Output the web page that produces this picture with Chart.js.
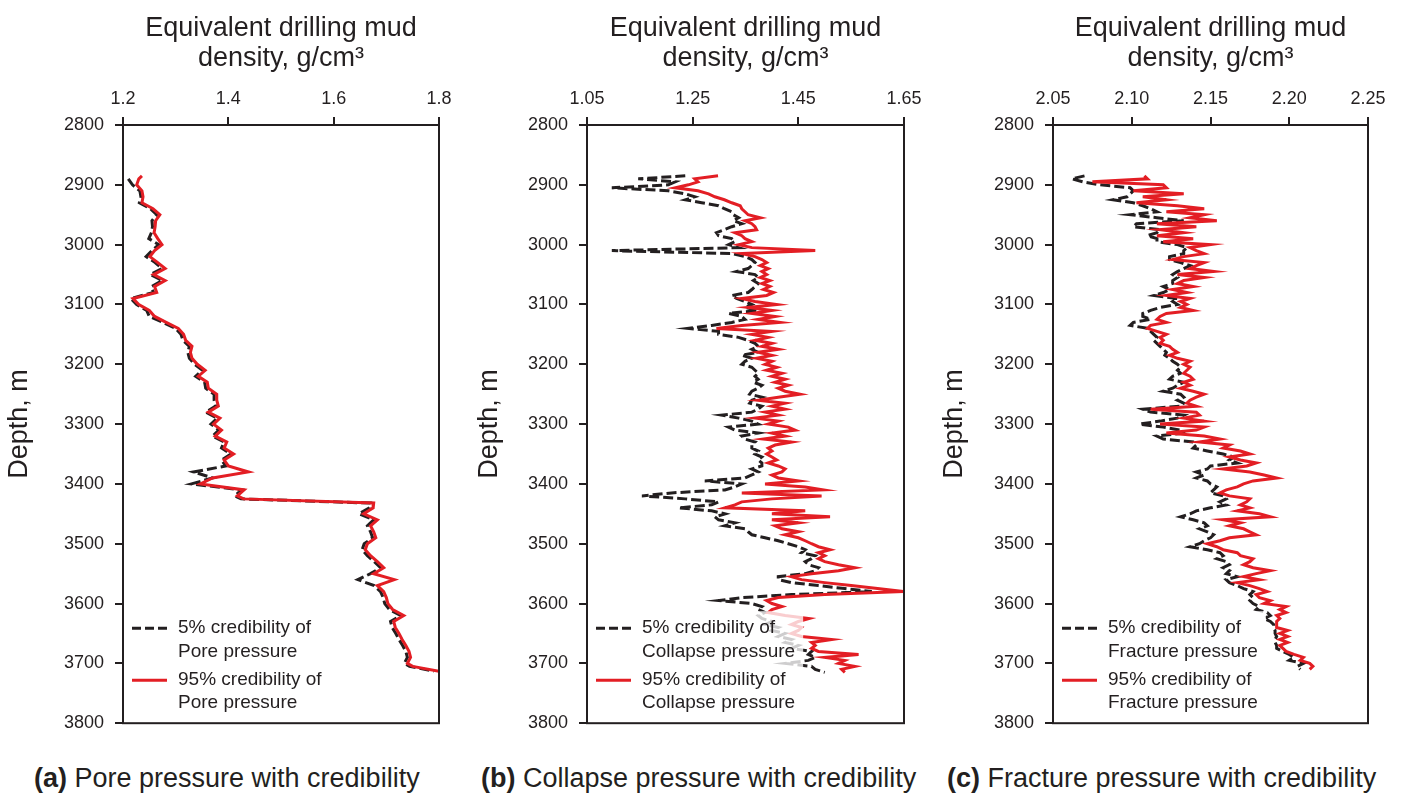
<!DOCTYPE html>
<html>
<head>
<meta charset="utf-8">
<script src="https://cdn.jsdelivr.net/npm/chart.js@4.4.0/dist/chart.umd.min.js"></script>
<style>
  body { margin: 0; background: #fff; width: 1402px; height: 795px; overflow: hidden; position: relative;
         font-family: 'Liberation Sans', Arial, sans-serif; color: #231f20; }
  .panel { position: absolute; top: 0; height: 745px; }
  .caption { position: absolute; top: 763px; font-size: 27px; line-height: 30px; white-space: nowrap; }
</style>
</head>
<body>
<div class="panel" style="left:0;width:470px"><canvas id="chartA"></canvas></div>
<div class="panel" style="left:470px;width:465px"><canvas id="chartB"></canvas></div>
<div class="panel" style="left:935px;width:467px"><canvas id="chartC"></canvas></div>
<div class="caption" style="left:34px"><b>(a)</b> Pore pressure with credibility</div>
<div class="caption" style="left:481px"><b>(b)</b> Collapse pressure with credibility</div>
<div class="caption" style="left:947px"><b>(c)</b> Fracture pressure with credibility</div>
<script>
const RED = '#e31e24';
const INK = '#231f20';

// depth axis (shared by all panels)
const depthTicks = [2800, 2900, 3000, 3100, 3200, 3300, 3400, 3500, 3600, 3700, 3800];
const depthLabels = ['2800', '2900', '3000', '3100', '3200', '3300', '3400', '3500', '3600', '3700', '3800'];

// (a) pore pressure
const poreTicks = [1.2, 1.4, 1.6, 1.8];
const poreLabels = ['1.2', '1.4', '1.6', '1.8'];
const poreDepth = [
  2885, 2890,
  2900, 2910, 2920, 2930, 2940, 2950, 2960, 2970, 2980, 2990,
  3000, 3010, 3020, 3030, 3040, 3050, 3060, 3070, 3080, 3090,
  3100, 3110, 3120, 3130, 3140, 3150, 3160, 3170, 3180, 3190,
  3200, 3210, 3220, 3230, 3240, 3250, 3260, 3270, 3280, 3290,
  3300, 3310, 3320, 3330, 3340, 3350, 3360, 3370, 3380, 3390,
  3400, 3410, 3420, 3425, 3432, 3440, 3450, 3460, 3470, 3480, 3490,
  3500, 3510, 3520, 3530, 3540, 3550, 3560, 3570, 3580, 3590,
  3600, 3610, 3620, 3630, 3640, 3650, 3660, 3670, 3680, 3690,
  3700, 3705, 3713
];
const pore95 = [
  1.236, 1.23,
  1.226, 1.236, 1.238, 1.236, 1.257, 1.270, 1.262, 1.261, 1.259, 1.266,
  1.274, 1.26, 1.251, 1.266, 1.28, 1.258, 1.28, 1.26, 1.264, 1.219,
  1.23, 1.25, 1.26, 1.282, 1.305, 1.315, 1.319, 1.331, 1.328, 1.331,
  1.341, 1.356, 1.343, 1.36, 1.362, 1.378, 1.378, 1.381, 1.362, 1.384,
  1.372, 1.387, 1.375, 1.397, 1.392, 1.41, 1.392, 1.40, 1.438, 1.37,
  1.347, 1.43, 1.417, 1.429, 1.676, 1.675, 1.657, 1.683, 1.670, 1.676, 1.68,
  1.664, 1.66, 1.67, 1.683, 1.695, 1.676, 1.715, 1.683, 1.695, 1.70,
  1.703, 1.712, 1.733, 1.714, 1.717, 1.724, 1.73, 1.737, 1.743, 1.746,
  1.74, 1.75, 1.80
];
const pore5 = [
  null, 1.21,
  1.218, 1.232, 1.234, 1.231, 1.252, 1.264, 1.255, 1.256, 1.254, 1.249,
  1.268, 1.255, 1.244, 1.261, 1.274, 1.252, 1.275, 1.254, 1.258, 1.215,
  1.226, 1.245, 1.25, 1.276, 1.30, 1.31, 1.314, 1.326, 1.323, 1.326,
  1.336, 1.351, 1.338, 1.355, 1.357, 1.373, 1.373, 1.376, 1.357, 1.379,
  1.367, 1.382, 1.37, 1.392, 1.387, 1.405, 1.387, 1.395, 1.334, 1.37,
  1.33, 1.425, 1.412, 1.424, 1.67, 1.668, 1.648, 1.676, 1.664, 1.67, 1.674,
  1.658, 1.654, 1.664, 1.677, 1.689, 1.67, 1.646, 1.677, 1.689, 1.694,
  1.697, 1.706, 1.727, 1.708, 1.711, 1.718, 1.724, 1.731, 1.737, 1.74,
  1.734, 1.744, 1.79
];

// (b) collapse pressure
const collapseTicks = [1.05, 1.25, 1.45, 1.65];
const collapseLabels = ['1.05', '1.25', '1.45', '1.65'];
const collapseDepth = [
  2885, 2890, 2895, 2900, 2905, 2910, 2915, 2920, 2925, 2930,
  2935, 2940, 2945, 2950, 2955, 2960, 2965, 2970, 2975, 2980,
  2985, 2990, 2995, 3000, 3005, 3010, 3015, 3020, 3025, 3030,
  3035, 3040, 3045, 3050, 3055, 3060, 3065, 3070, 3075, 3080,
  3085, 3090, 3095, 3100, 3105, 3110, 3115, 3120, 3125, 3130,
  3135, 3140, 3145, 3150, 3155, 3160, 3165, 3170, 3175, 3180,
  3185, 3190, 3195, 3200, 3205, 3210, 3215, 3220, 3225, 3230,
  3235, 3240, 3245, 3250, 3255, 3260, 3265, 3270, 3275, 3280,
  3285, 3290, 3295, 3300, 3305, 3310, 3315, 3320, 3325, 3330,
  3335, 3340, 3345, 3350, 3355, 3360, 3365, 3370, 3375, 3380,
  3385, 3390, 3395, 3400, 3405, 3410, 3415, 3420, 3425, 3430,
  3435, 3440, 3445, 3450, 3455, 3460, 3465, 3470, 3475, 3480,
  3485, 3490, 3495, 3500, 3505, 3510, 3515, 3520, 3525, 3530,
  3535, 3540, 3545, 3550, 3555, 3560, 3565, 3570, 3575, 3580,
  3585, 3590, 3595, 3600, 3605, 3610, 3615, 3620, 3625, 3630,
  3635, 3640, 3645, 3650, 3655, 3660, 3665, 3670, 3675, 3680,
  3685, 3690, 3695, 3700, 3705, 3710, 3715
];
const collapse95 = [
  1.298, 1.254, 1.26, 1.242, 1.217, 1.26, 1.28, 1.292, 1.31, 1.324,
  1.34, 1.343, 1.349, 1.355, 1.378, 1.349, 1.362, 1.368, 1.371, 1.33,
  1.343, 1.349, 1.362, 1.337, 1.362, 1.482, 1.343, 1.368, 1.381, 1.39,
  1.378, 1.393, 1.381, 1.39, 1.378, 1.396, 1.381, 1.396, 1.384, 1.403,
  1.39, 1.343, 1.368, 1.409, 1.355, 1.40, 1.362, 1.406, 1.374, 1.415,
  1.343, 1.295, 1.40, 1.362, 1.393, 1.368, 1.40, 1.381, 1.412, 1.374,
  1.40, 1.371, 1.40, 1.387, 1.409, 1.39, 1.419, 1.40, 1.425, 1.406,
  1.431, 1.412, 1.425, 1.453, 1.412, 1.374, 1.425, 1.40, 1.425, 1.387,
  1.412, 1.368, 1.412, 1.393, 1.431, 1.444, 1.40, 1.425, 1.384, 1.437,
  1.406, 1.393, 1.40, 1.39, 1.40, 1.409, 1.393, 1.412, 1.425, 1.419,
  1.40, 1.412, 1.45, 1.387, 1.463, 1.497, 1.343, 1.494, 1.40, 1.343,
  1.33, 1.311, 1.463, 1.40, 1.51, 1.40, 1.45, 1.406, 1.419, 1.45,
  1.425, 1.45, 1.463, 1.475, 1.488, 1.51, 1.488, 1.50, 1.488, 1.50,
  1.526, 1.557, 1.526, 1.475, 1.437, 1.456, 1.50, 1.55, 1.60, 1.649,
  1.50, 1.412, 1.39, 1.40, 1.419, 1.40, 1.393, 1.425, 1.47, 1.45,
  1.437, 1.456, 1.45, 1.437, 1.456, 1.513, 1.475, 1.482, 1.475, 1.488,
  1.564, 1.50, 1.538, 1.526, 1.557, 1.532, 1.538
];
const collapse5 = [
  1.236, 1.147, 1.217, 1.204, 1.097, 1.204, 1.236, 1.254, 1.236, 1.267,
  1.299, 1.31, 1.324, 1.327, 1.337, 1.327, 1.343, 1.324, 1.31, 1.295,
  1.299, 1.324, 1.33, 1.318, 1.337, 1.097, 1.324, 1.349, 1.362, 1.368,
  1.362, 1.355, 1.333, 1.368, 1.374, 1.365, 1.374, 1.368, 1.362, 1.355,
  1.324, 1.333, 1.349, 1.362, 1.349, 1.374, 1.318, 1.343, 1.349, 1.324,
  1.286, 1.242, 1.299, 1.299, 1.337, 1.355, 1.368, 1.374, 1.362, 1.374,
  1.343, 1.362, 1.349, 1.343, 1.362, 1.368, 1.374, 1.368, 1.374, 1.365,
  1.381, 1.374, 1.362, 1.358, 1.381, 1.362, 1.358, 1.381, 1.374, 1.362,
  1.305, 1.337, 1.362, 1.374, 1.318, 1.33, 1.374, 1.343, 1.349, 1.368,
  1.362, 1.362, 1.374, 1.368, 1.381, 1.374, 1.381, 1.381, 1.362, 1.374,
  1.362, 1.349, 1.273, 1.343, 1.33, 1.311, 1.21, 1.154, 1.236, 1.299,
  1.286, 1.223, 1.286, 1.311, 1.292, 1.299, 1.33, 1.311, 1.349, 1.355,
  1.362, 1.387, 1.412, 1.431, 1.45, 1.463, 1.456, 1.482, 1.475, 1.463,
  1.469, 1.488, 1.482, 1.463, 1.412, 1.412, 1.437, 1.488, 1.538, 1.589,
  1.437, 1.343, 1.299, 1.362, 1.381, 1.374, 1.387, 1.374, 1.381, 1.40,
  1.387, 1.412, 1.40, 1.425, 1.412, 1.437, 1.425, 1.45, 1.437, 1.475,
  1.469, 1.482, 1.469, 1.425, 1.475, 1.482, 1.50
];

// (c) fracture pressure
const fractureTicks = [2.05, 2.10, 2.15, 2.20, 2.25];
const fractureLabels = ['2.05', '2.10', '2.15', '2.20', '2.25'];
const fractureDepth = [
  2885, 2890, 2895, 2900, 2905, 2910, 2915, 2920, 2925, 2930,
  2935, 2940, 2945, 2950, 2955, 2960, 2965, 2970, 2975, 2980,
  2985, 2990, 2995, 3000, 3005, 3010, 3015, 3020, 3025, 3030,
  3035, 3040, 3045, 3050, 3055, 3060, 3065, 3070, 3075, 3080,
  3085, 3090, 3095, 3100, 3105, 3110, 3115, 3120, 3125, 3130,
  3135, 3140, 3145, 3150, 3155, 3160, 3165, 3170, 3175, 3180,
  3185, 3190, 3195, 3200, 3205, 3210, 3215, 3220, 3225, 3230,
  3235, 3240, 3245, 3250, 3255, 3260, 3265, 3270, 3275, 3280,
  3285, 3290, 3295, 3300, 3305, 3310, 3315, 3320, 3325, 3330,
  3335, 3340, 3345, 3350, 3355, 3360, 3365, 3370, 3375, 3380,
  3385, 3390, 3395, 3400, 3405, 3410, 3415, 3420, 3425, 3430,
  3435, 3440, 3445, 3450, 3455, 3460, 3465, 3470, 3475, 3480,
  3485, 3490, 3495, 3500, 3505, 3510, 3515, 3520, 3525, 3530,
  3535, 3540, 3545, 3550, 3555, 3560, 3565, 3570, 3575, 3580,
  3585, 3590, 3595, 3600, 3605, 3610, 3615, 3620, 3625, 3630,
  3635, 3640, 3645, 3650, 3655, 3660, 3665, 3670, 3675, 3680,
  3685, 3690, 3695, 3700, 3705, 3710
];
const fracture95 = [
  2.108, 2.11, 2.075, 2.12, 2.122, 2.101, 2.133, 2.107, 2.122, 2.103,
  2.129, 2.146, 2.122, 2.146, 2.137, 2.154, 2.116, 2.141, 2.118, 2.133,
  2.116, 2.139, 2.12, 2.15, 2.137, 2.141, 2.146, 2.133, 2.126, 2.146,
  2.141, 2.137, 2.152, 2.129, 2.146, 2.133, 2.129, 2.139, 2.126, 2.135,
  2.122, 2.137, 2.131, 2.135, 2.131, 2.139, 2.122, 2.118, 2.116, 2.122,
  2.112, 2.11, 2.116, 2.122, 2.118, 2.12, 2.118, 2.124, 2.126, 2.129,
  2.124, 2.129, 2.137, 2.133, 2.137, 2.135, 2.133, 2.137, 2.139, 2.133,
  2.137, 2.131, 2.139, 2.146, 2.141, 2.137, 2.135, 2.141, 2.112, 2.141,
  2.143, 2.133, 2.146, 2.118, 2.146, 2.141, 2.122, 2.146, 2.156, 2.143,
  2.162, 2.158, 2.169, 2.175, 2.162, 2.169, 2.179, 2.173, 2.158, 2.175,
  2.184, 2.192, 2.177, 2.171, 2.167, 2.16, 2.156, 2.162, 2.175, 2.173,
  2.169, 2.175, 2.167, 2.181, 2.188, 2.158, 2.169, 2.162, 2.171, 2.175,
  2.179, 2.162, 2.156, 2.148, 2.154, 2.158, 2.167, 2.169, 2.177, 2.175,
  2.171, 2.177, 2.188, 2.179, 2.171, 2.181, 2.167, 2.175, 2.181, 2.186,
  2.179, 2.181, 2.188, 2.184, 2.198, 2.194, 2.198, 2.192, 2.194, 2.192,
  2.192, 2.192, 2.199, 2.194, 2.199, 2.194, 2.199, 2.194, 2.196, 2.198,
  2.203, 2.209, 2.207, 2.213, 2.215, 2.213
];
const fracture5 = [
  2.07, 2.062, 2.069, 2.08, 2.099, 2.101, 2.099, 2.097, 2.088, 2.101,
  2.107, 2.112, 2.116, 2.099, 2.116, 2.133, 2.103, 2.101, 2.118, 2.116,
  2.11, 2.116, 2.116, 2.129, 2.135, 2.133, 2.133, 2.124, 2.124, 2.131,
  2.137, 2.133, 2.129, 2.126, 2.129, 2.126, 2.126, 2.12, 2.124, 2.12,
  2.114, 2.129, 2.126, 2.129, 2.118, 2.112, 2.107, 2.107, 2.112, 2.101,
  2.099, 2.11, 2.112, 2.114, 2.116, 2.114, 2.116, 2.118, 2.12, 2.122,
  2.121, 2.124, 2.126, 2.129, 2.131, 2.129, 2.131, 2.126, 2.124, 2.133,
  2.129, 2.126, 2.12, 2.131, 2.133, 2.129, 2.133, 2.131, 2.107, 2.112,
  2.133, 2.129, 2.118, 2.105, 2.12, 2.131, 2.133, 2.116, 2.12, 2.139,
  2.141, 2.139, 2.148, 2.158, 2.165, 2.162, 2.167, 2.15, 2.148, 2.141,
  2.146, 2.141, 2.148, 2.15, 2.154, 2.152, 2.15, 2.158, 2.16, 2.156,
  2.16, 2.15, 2.141, 2.137, 2.131, 2.139, 2.146, 2.148, 2.143, 2.148,
  2.152, 2.15, 2.146, 2.143, 2.137, 2.148, 2.156, 2.158, 2.154, 2.16,
  2.162, 2.158, 2.162, 2.16, 2.167, 2.16, 2.162, 2.167, 2.171, 2.177,
  2.175, 2.177, 2.175, 2.177, 2.181, 2.179, 2.186, 2.188, 2.184, 2.188,
  2.19, 2.19, 2.191, 2.191, 2.192, 2.191, 2.191, 2.192, 2.192, 2.196,
  2.20, 2.203, 2.20, 2.209, 2.205, 2.207
];

Chart.defaults.font.family = "'Liberation Sans', Arial, sans-serif";
Chart.defaults.color = INK;

// box round the plot area
const framePlugin = {
  id: 'frame',
  afterDraw(chart) {
    const {ctx, chartArea: a} = chart;
    ctx.save();
    ctx.strokeStyle = INK;
    ctx.lineWidth = 2;
    ctx.strokeRect(a.left, a.top, a.right - a.left, a.bottom - a.top);
    ctx.restore();
  }
};

// legend in the lower left corner, with a light backing
const cornerLegend = {
  id: 'cornerLegend',
  afterDatasetsDraw(chart, args, opts) {
    const {ctx, chartArea: a} = chart;
    const rows = [['5% credibility of', opts.name], ['95% credibility of', opts.name]];
    ctx.save();
    ctx.font = "19px 'Liberation Sans', Arial, sans-serif";
    let w = 0;
    rows.forEach(r => r.forEach(t => { w = Math.max(w, ctx.measureText(t).width); }));
    ctx.fillStyle = 'rgba(255,255,255,0.78)';
    ctx.fillRect(a.left + 4, a.bottom - 112, 55 + w + 4, 108);

    ctx.lineWidth = 3;
    ctx.strokeStyle = INK;
    ctx.setLineDash([9, 4]);
    ctx.beginPath(); ctx.moveTo(a.left + 9, a.bottom - 95); ctx.lineTo(a.left + 44, a.bottom - 95); ctx.stroke();
    ctx.setLineDash([]);
    ctx.strokeStyle = RED;
    ctx.beginPath(); ctx.moveTo(a.left + 9, a.bottom - 43); ctx.lineTo(a.left + 44, a.bottom - 43); ctx.stroke();

    ctx.fillStyle = INK;
    ctx.textBaseline = 'middle';
    ctx.textAlign = 'left';
    ctx.fillText(rows[0][0], a.left + 55, a.bottom - 95);
    ctx.fillText(rows[0][1], a.left + 55, a.bottom - 71);
    ctx.fillText(rows[1][0], a.left + 55, a.bottom - 43);
    ctx.fillText(rows[1][1], a.left + 55, a.bottom - 20);
    ctx.restore();
  }
};

function makePanel(id, p) {
  const pts = vals => p.depth.map((d, i) => ({x: vals[i], y: d}));
  return new Chart(document.getElementById(id), {
    type: 'scatter',
    data: {
      datasets: [
        {label: '95% credibility of ' + p.name, data: pts(p.high), showLine: true,
         borderColor: RED, borderWidth: 3, pointRadius: 0, tension: 0},
        {label: '5% credibility of ' + p.name, data: pts(p.low), showLine: true,
         borderColor: INK, borderWidth: 3, borderDash: [10, 4], pointRadius: 0, tension: 0}
      ]
    },
    options: {
      responsive: true,
      maintainAspectRatio: false,
      animation: false,
      events: [],
      layout: {padding: {left: 0, right: p.rightPad, top: 0, bottom: 15}},
      plugins: {
        legend: {display: false},
        tooltip: {enabled: false},
        cornerLegend: {name: p.name}
      },
      scales: {
        x: {
          type: 'linear',
          position: 'top',
          min: p.ticks[0],
          max: p.ticks[p.ticks.length - 1],
          afterBuildTicks: s => { s.ticks = p.ticks.map(v => ({value: v})); },
          afterFit: s => { s.height = 125; },
          ticks: {font: {size: 18}, padding: 7, color: INK, maxRotation: 0,
                  callback: (v, i) => p.labels[i]},
          grid: {drawOnChartArea: false, drawTicks: true, tickLength: 8, color: INK, lineWidth: 2},
          border: {display: false},
          title: {display: true, text: ['Equivalent drilling mud', 'density, g/cm³'], color: INK,
                  font: {size: 27, lineHeight: 1.12}, padding: {top: 13, bottom: 0}}
        },
        y: {
          type: 'linear',
          reverse: true,
          min: 2800,
          max: 3800,
          afterBuildTicks: s => { s.ticks = depthTicks.map(v => ({value: v})); },
          afterFit: s => { s.width = p.yWidth; },
          ticks: {font: {size: 18}, padding: 11, color: INK, callback: (v, i) => depthLabels[i]},
          grid: {drawOnChartArea: false, drawTicks: true, tickLength: 8, color: INK, lineWidth: 2},
          border: {display: false},
          title: {display: true, text: 'Depth, m', color: INK,
                  font: {size: 27, lineHeight: 1}, padding: {top: 6, bottom: 0}}
        }
      }
    },
    plugins: [cornerLegend, framePlugin]
  });
}

makePanel('chartA', {name: 'Pore pressure', depth: poreDepth, high: pore95, low: pore5,
  ticks: poreTicks, labels: poreLabels, yWidth: 123, rightPad: 31});
makePanel('chartB', {name: 'Collapse pressure', depth: collapseDepth, high: collapse95, low: collapse5,
  ticks: collapseTicks, labels: collapseLabels, yWidth: 117, rightPad: 31});
makePanel('chartC', {name: 'Fracture pressure', depth: fractureDepth, high: fracture95, low: fracture5,
  ticks: fractureTicks, labels: fractureLabels, yWidth: 118, rightPad: 34});
</script>
</body>
</html>
